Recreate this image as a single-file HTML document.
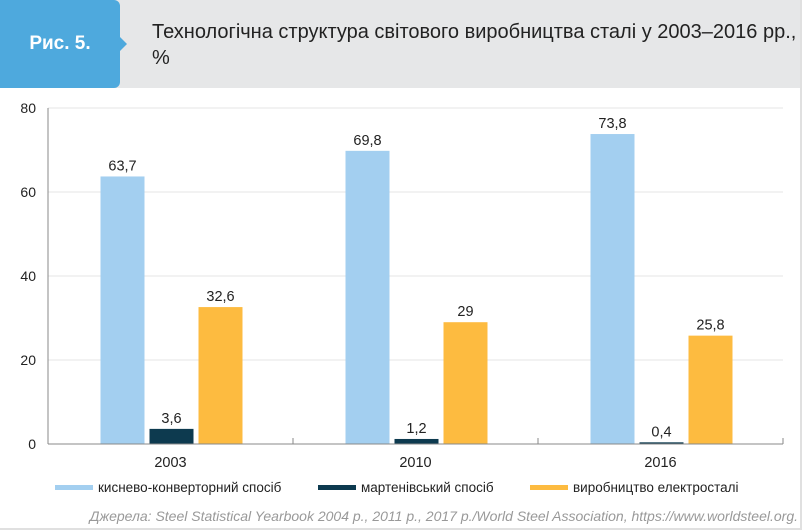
<!DOCTYPE html>
<html><head><meta charset="utf-8"><style>
body{margin:0;width:803px;height:531px;overflow:hidden;background:#fff;font-family:"Liberation Sans",sans-serif}
#wrap{position:absolute;left:0;top:0;width:800px;height:528px;border-right:2px solid #e0e0e0;border-bottom:2px solid #e0e0e0}
#hdr{position:absolute;left:0;top:0;width:800px;height:88px;background:#e6e7e8}
#tab{position:absolute;left:0;top:0;width:120px;height:88px;background:#4ea9dd;border-radius:0 6px 6px 0;color:#fff;font-weight:bold;font-size:19px;line-height:88px;text-align:center}
#tab:after{content:"";position:absolute;right:-7px;top:37px;border-left:7px solid #4ea9dd;border-top:7px solid transparent;border-bottom:7px solid transparent}
#title{position:absolute;left:152px;top:19px;font-size:20px;color:#222;line-height:26px;width:645px}
#src{position:absolute;right:5px;top:508px;font-size:14px;color:#999;font-style:italic}
</style></head><body>
<div id="wrap"></div>
<div id="hdr"></div>
<div id="tab">Рис. 5.</div>
<div id="title">Технологічна структура світового виробництва сталі у 2003–2016 рр.,<br>%</div>
<svg id="chart" width="803" height="531" style="position:absolute;left:0;top:0"></svg>
<div id="src">Джерела: Steel Statistical Yearbook 2004 р., 2011 р., 2017 р./World Steel Association, https://www.worldsteel.org.</div>
<script>
const categories=["2003","2010","2016"];
const oxygen=[63.7,69.8,73.8];
const openHearth=[3.6,1.2,0.4];
const electric=[32.6,29,25.8];
const yTicks=[0,20,40,60,80];
const seriesNames=["киснево-конверторний спосіб","мартенівський спосіб","виробництво електросталі"];
const colors=["#a3cff0","#0d3a4f","#fdbb40"];
const svg=document.getElementById('chart');const NS="http://www.w3.org/2000/svg";
function mk(t,a,p){const e=document.createElementNS(NS,t);for(const k in a)e.setAttribute(k,a[k]);(p||svg).appendChild(e);return e;}
const x0=48,x1=783,y0=444,y1=108;
const y=v=>y0-(v/80)*(y0-y1);
const bw=(x1-x0)/categories.length;
const cx=i=>x0+bw*(i+0.5);
yTicks.forEach(t=>{
 if(t>0){const g=mk('line',{x1:x0,x2:x1,y1:y(t),y2:y(t),stroke:'#e4e4e4'});}
 const l=mk('text',{x:36,y:y(t)+5,'text-anchor':'end','font-size':14,fill:'#222'});l.textContent=t;
 
});
const ax=mk('line',{x1:x0,x2:x0,y1:y1,y2:y0,stroke:'#888'});
const series=[oxygen,openHearth,electric];
categories.forEach((c,i)=>{
 series.forEach((s,j)=>{
  const bx=cx(i)-70+j*49;
  const r=mk('rect',{x:bx,y:y(s[i]),width:44,height:y0-y(s[i]),fill:colors[j]});
  
  const t=mk('text',{x:bx+22,y:y(s[i])-6,'text-anchor':'middle','font-size':14.5,fill:'#222'});t.textContent=String(s[i]).replace('.',',');
  
 });
 const t=mk('text',{x:cx(i),y:467,'text-anchor':'middle','font-size':14.5,fill:'#222'});t.textContent=c;
 
});
const xa=mk('line',{x1:x0,x2:x1,y1:y0,y2:y0,stroke:'#888'});
for(let i=0;i<=categories.length;i++){const tk=mk('line',{x1:x0+bw*i,x2:x0+bw*i,y1:y0,y2:y0-6,stroke:'#888'});}
const lx=[55,318,530];
seriesNames.forEach((n,j)=>{
 const r=mk('rect',{x:lx[j],y:485,width:38,height:5,fill:colors[j]});
 const t=mk('text',{x:lx[j]+43,y:492,'font-size':13.5,fill:'#222'});t.textContent=n;
 
});
</script>
</body></html>
